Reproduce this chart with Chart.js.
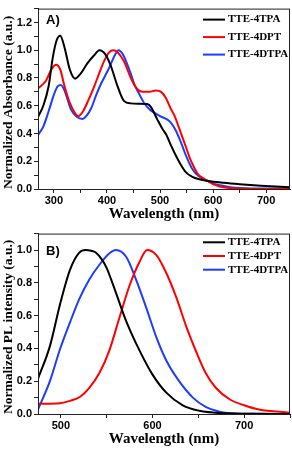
<!DOCTYPE html>
<html>
<head>
<meta charset="utf-8">
<style>
  body { margin: 0; background: #fff; }
  .panel { position: absolute; left: 0; width: 292px; height: 225px; }
</style>
</head>
<body>
<div class="panel" style="top:0"><canvas id="absChart" width="292" height="225"></canvas></div>
<div class="panel" style="top:225px"><canvas id="plChart" width="292" height="225"></canvas></div>
<script src="https://cdn.jsdelivr.net/npm/chart.js@4.4.0/dist/chart.umd.min.js"></script>
<script>
// series names / colours (same for both panels)
const seriesNames = ["TTE-4TPA", "TTE-4DPT", "TTE-4DTPA"];
const seriesColors = ["#000000", "#ff0000", "#1c3cff"];

// A) absorbance
const absWl4TPA = [270, 280, 290, 298, 305, 312, 320, 330, 340, 350, 363, 375, 386, 397, 407, 420, 432, 445, 460, 476, 483, 495, 505, 512, 520, 530, 540, 549, 560, 574, 590, 620, 650, 690, 745];
const abs4TPA = [0.52, 0.60, 0.74, 0.95, 1.07, 1.105, 1.02, 0.86, 0.795, 0.83, 0.905, 0.96, 1.0, 0.97, 0.89, 0.74, 0.635, 0.617, 0.615, 0.612, 0.59, 0.50, 0.43, 0.39, 0.32, 0.24, 0.17, 0.12, 0.09, 0.07, 0.058, 0.045, 0.035, 0.024, 0.012];
const absWl4DPT = [270, 285, 295, 304, 312, 320, 330, 340, 346, 355, 365, 376, 385, 395, 404, 412, 420, 432, 445, 455, 467, 480, 492, 502, 511, 520, 527, 535, 543, 550, 556, 565, 571, 580, 590, 600, 612, 630, 660, 745];
const abs4DPT = [0.725, 0.78, 0.86, 0.895, 0.86, 0.74, 0.62, 0.545, 0.525, 0.56, 0.64, 0.74, 0.83, 0.925, 0.985, 1.0, 0.985, 0.92, 0.80, 0.73, 0.70, 0.70, 0.71, 0.70, 0.656, 0.58, 0.53, 0.45, 0.365, 0.29, 0.225, 0.15, 0.11, 0.08, 0.058, 0.035, 0.018, 0.007, 0.002, 0.0];
const absWl4DTPA = [270, 280, 290, 300, 307, 313, 320, 332, 343, 354, 362, 370, 380, 389, 397, 405, 413, 422, 430, 436, 445, 451, 460, 470, 480, 489, 500, 514, 520, 530, 540, 549, 560, 568, 580, 590, 600, 612, 630, 660, 745];
const abs4DTPA = [0.39, 0.45, 0.56, 0.68, 0.74, 0.749, 0.71, 0.574, 0.52, 0.505, 0.53, 0.58, 0.68, 0.76, 0.82, 0.88, 0.95, 1.0, 0.97, 0.92, 0.83, 0.76, 0.69, 0.62, 0.575, 0.55, 0.525, 0.50, 0.48, 0.42, 0.33, 0.24, 0.15, 0.11, 0.075, 0.058, 0.04, 0.028, 0.014, 0.006, 0.003];

// B) photoluminescence
const plWl4TPA = [475, 488, 499, 510, 520, 527, 533, 538, 545, 550, 560, 571, 586, 600, 615, 633, 651, 669, 687, 710, 750];
const pl4TPA = [0.215, 0.414, 0.668, 0.88, 0.984, 1.0, 0.995, 0.985, 0.94, 0.89, 0.74, 0.57, 0.385, 0.24, 0.13, 0.053, 0.02, 0.008, 0.003, 0.001, 0.0];
const plWl4DPT = [475, 499, 510, 521, 531, 542, 553, 564, 575, 586, 594, 604, 615, 626, 637, 648, 658, 669, 684, 700, 716, 750];
const pl4DPT = [0.0625, 0.066, 0.08, 0.105, 0.16, 0.25, 0.39, 0.59, 0.785, 0.93, 1.0, 0.97, 0.86, 0.71, 0.53, 0.375, 0.25, 0.16, 0.09, 0.053, 0.027, 0.008];
const plWl4DTPA = [475, 488, 499, 510, 520, 531, 542, 553, 560, 571, 582, 593, 604, 615, 629, 644, 658, 673, 687, 710, 750];
const pl4DTPA = [0.027, 0.2, 0.395, 0.56, 0.70, 0.82, 0.91, 0.98, 1.0, 0.96, 0.82, 0.65, 0.47, 0.326, 0.2, 0.1, 0.043, 0.014, 0.004, 0.001, 0.0];

// axis ranges and tick positions (labels only on every other tick)
const absXRange = [270, 745];
const absYRange = [0, 1.3];
const plXRange = [475, 750];
const plYRange = [0, 1.1];
const absXTicks = [300, 350, 400, 450, 500, 550, 600, 650, 700];
const plXTicks = [500, 550, 600, 650, 700, 750];
const absYTicks = [0, 0.1, 0.2, 0.3, 0.4, 0.5, 0.6, 0.7, 0.8, 0.9, 1.0, 1.1, 1.2, 1.3];
const plYTicks = [0, 0.1, 0.2, 0.3, 0.4, 0.5, 0.6, 0.7, 0.8, 0.9, 1.0, 1.1];

const sansBold = { family: "'Liberation Sans', Arial, sans-serif", size: 11, weight: "bold" };
const serifBold = "'Liberation Serif', 'Times New Roman', serif";

function toPoints(wl, vals) {
  return wl.map((w, i) => ({ x: w, y: vals[i] }));
}

// frame, panel letter and legend drawn inside the plot
const panelDecor = {
  id: "panelDecor",
  afterDraw(chart, args, opts) {
    const ctx = chart.ctx;
    const a = chart.chartArea;
    ctx.save();
    ctx.strokeStyle = "#222";
    ctx.lineWidth = 1;
    ctx.strokeRect(a.left + 0.5, a.top + 0.5, a.right - a.left - 1, a.bottom - a.top);

    ctx.fillStyle = "#000";
    ctx.font = "bold 13px 'Liberation Sans', Arial, sans-serif";
    ctx.textBaseline = "middle";
    ctx.fillText(opts.label, a.left + 8, a.top + opts.labelY);

    ctx.font = "bold 11px " + serifBold;
    chart.data.datasets.forEach((ds, i) => {
      const y = a.top + opts.legendTop + i * opts.legendGap;
      ctx.strokeStyle = ds.borderColor;
      ctx.lineWidth = 2;
      ctx.beginPath();
      ctx.moveTo(203, y);
      ctx.lineTo(225, y);
      ctx.stroke();
      ctx.fillText(ds.label, 228, y);
    });
    ctx.restore();
  },
};

function makeChart(id, wls, vals, xRange, yRange, xTicks, yTicks, yTitle, decor) {
  return new Chart(document.getElementById(id), {
    type: "line",
    data: {
      datasets: seriesNames.map((name, i) => ({
        label: name,
        data: toPoints(wls[i], vals[i]),
        borderColor: seriesColors[i],
        borderWidth: 2,
        pointRadius: 0,
        fill: false,
        cubicInterpolationMode: "monotone",
      })),
    },
    options: {
      responsive: false,
      animation: false,
      layout: { padding: { top: decor.padTop, right: 2, left: 0, bottom: 0 } },
      plugins: {
        legend: { display: false },
        tooltip: { enabled: false },
        panelDecor: decor,
      },
      scales: {
        x: {
          type: "linear",
          min: xRange[0],
          max: xRange[1],
          afterBuildTicks: (s) => { s.ticks = xTicks.map((v) => ({ value: v })); },
          afterFit: (s) => { s.height = 36; },
          grid: { drawOnChartArea: false, tickLength: 4, tickColor: "#222" },
          border: { color: "#222", width: 1 },
          ticks: {
            padding: 1,
            color: "#000",
            font: sansBold,
            maxRotation: 0,
            autoSkip: false,
            callback: (v) => (v % 100 === 0 ? v : ""),
          },
          title: {
            display: true,
            text: "Wavelength (nm)",
            color: "#000",
            font: { family: serifBold, size: 15, weight: "bold", lineHeight: 1 },
            padding: { top: 0, bottom: 3 },
          },
        },
        y: {
          min: yRange[0],
          max: yRange[1],
          afterBuildTicks: (s) => { s.ticks = yTicks.map((v) => ({ value: v })); },
          afterFit: (s) => { s.width = 38; },
          grid: { drawOnChartArea: false, tickLength: 4, tickColor: "#222" },
          border: { color: "#222", width: 1 },
          ticks: {
            padding: 2,
            color: "#000",
            font: sansBold,
            autoSkip: false,
            callback: (v) => (Math.round(v * 10) % 2 === 0 ? v.toFixed(1) : ""),
          },
          title: {
            display: true,
            text: yTitle,
            align: "start",
            color: "#000",
            font: { family: serifBold, size: 13.5, weight: "bold", lineHeight: 1 },
            padding: { top: 2, bottom: 0 },
          },
        },
      },
    },
    plugins: [panelDecor],
  });
}

makeChart(
  "absChart",
  [absWl4TPA, absWl4DPT, absWl4DTPA],
  [abs4TPA, abs4DPT, abs4DTPA],
  absXRange,
  absYRange,
  absXTicks,
  absYTicks,
  "Normalized Absorbance (a.u.)",
  { label: "A)", labelY: 12, legendTop: 11, legendGap: 17.5, padTop: 2 }
);

makeChart(
  "plChart",
  [plWl4TPA, plWl4DPT, plWl4DTPA],
  [pl4TPA, pl4DPT, pl4DTPA],
  plXRange,
  plYRange,
  plXTicks,
  plYTicks,
  "Normalized PL intensity (a.u.)",
  { label: "B)", labelY: 18, legendTop: 8.7, legendGap: 13.7, padTop: 3 }
);
</script>
</body>
</html>
